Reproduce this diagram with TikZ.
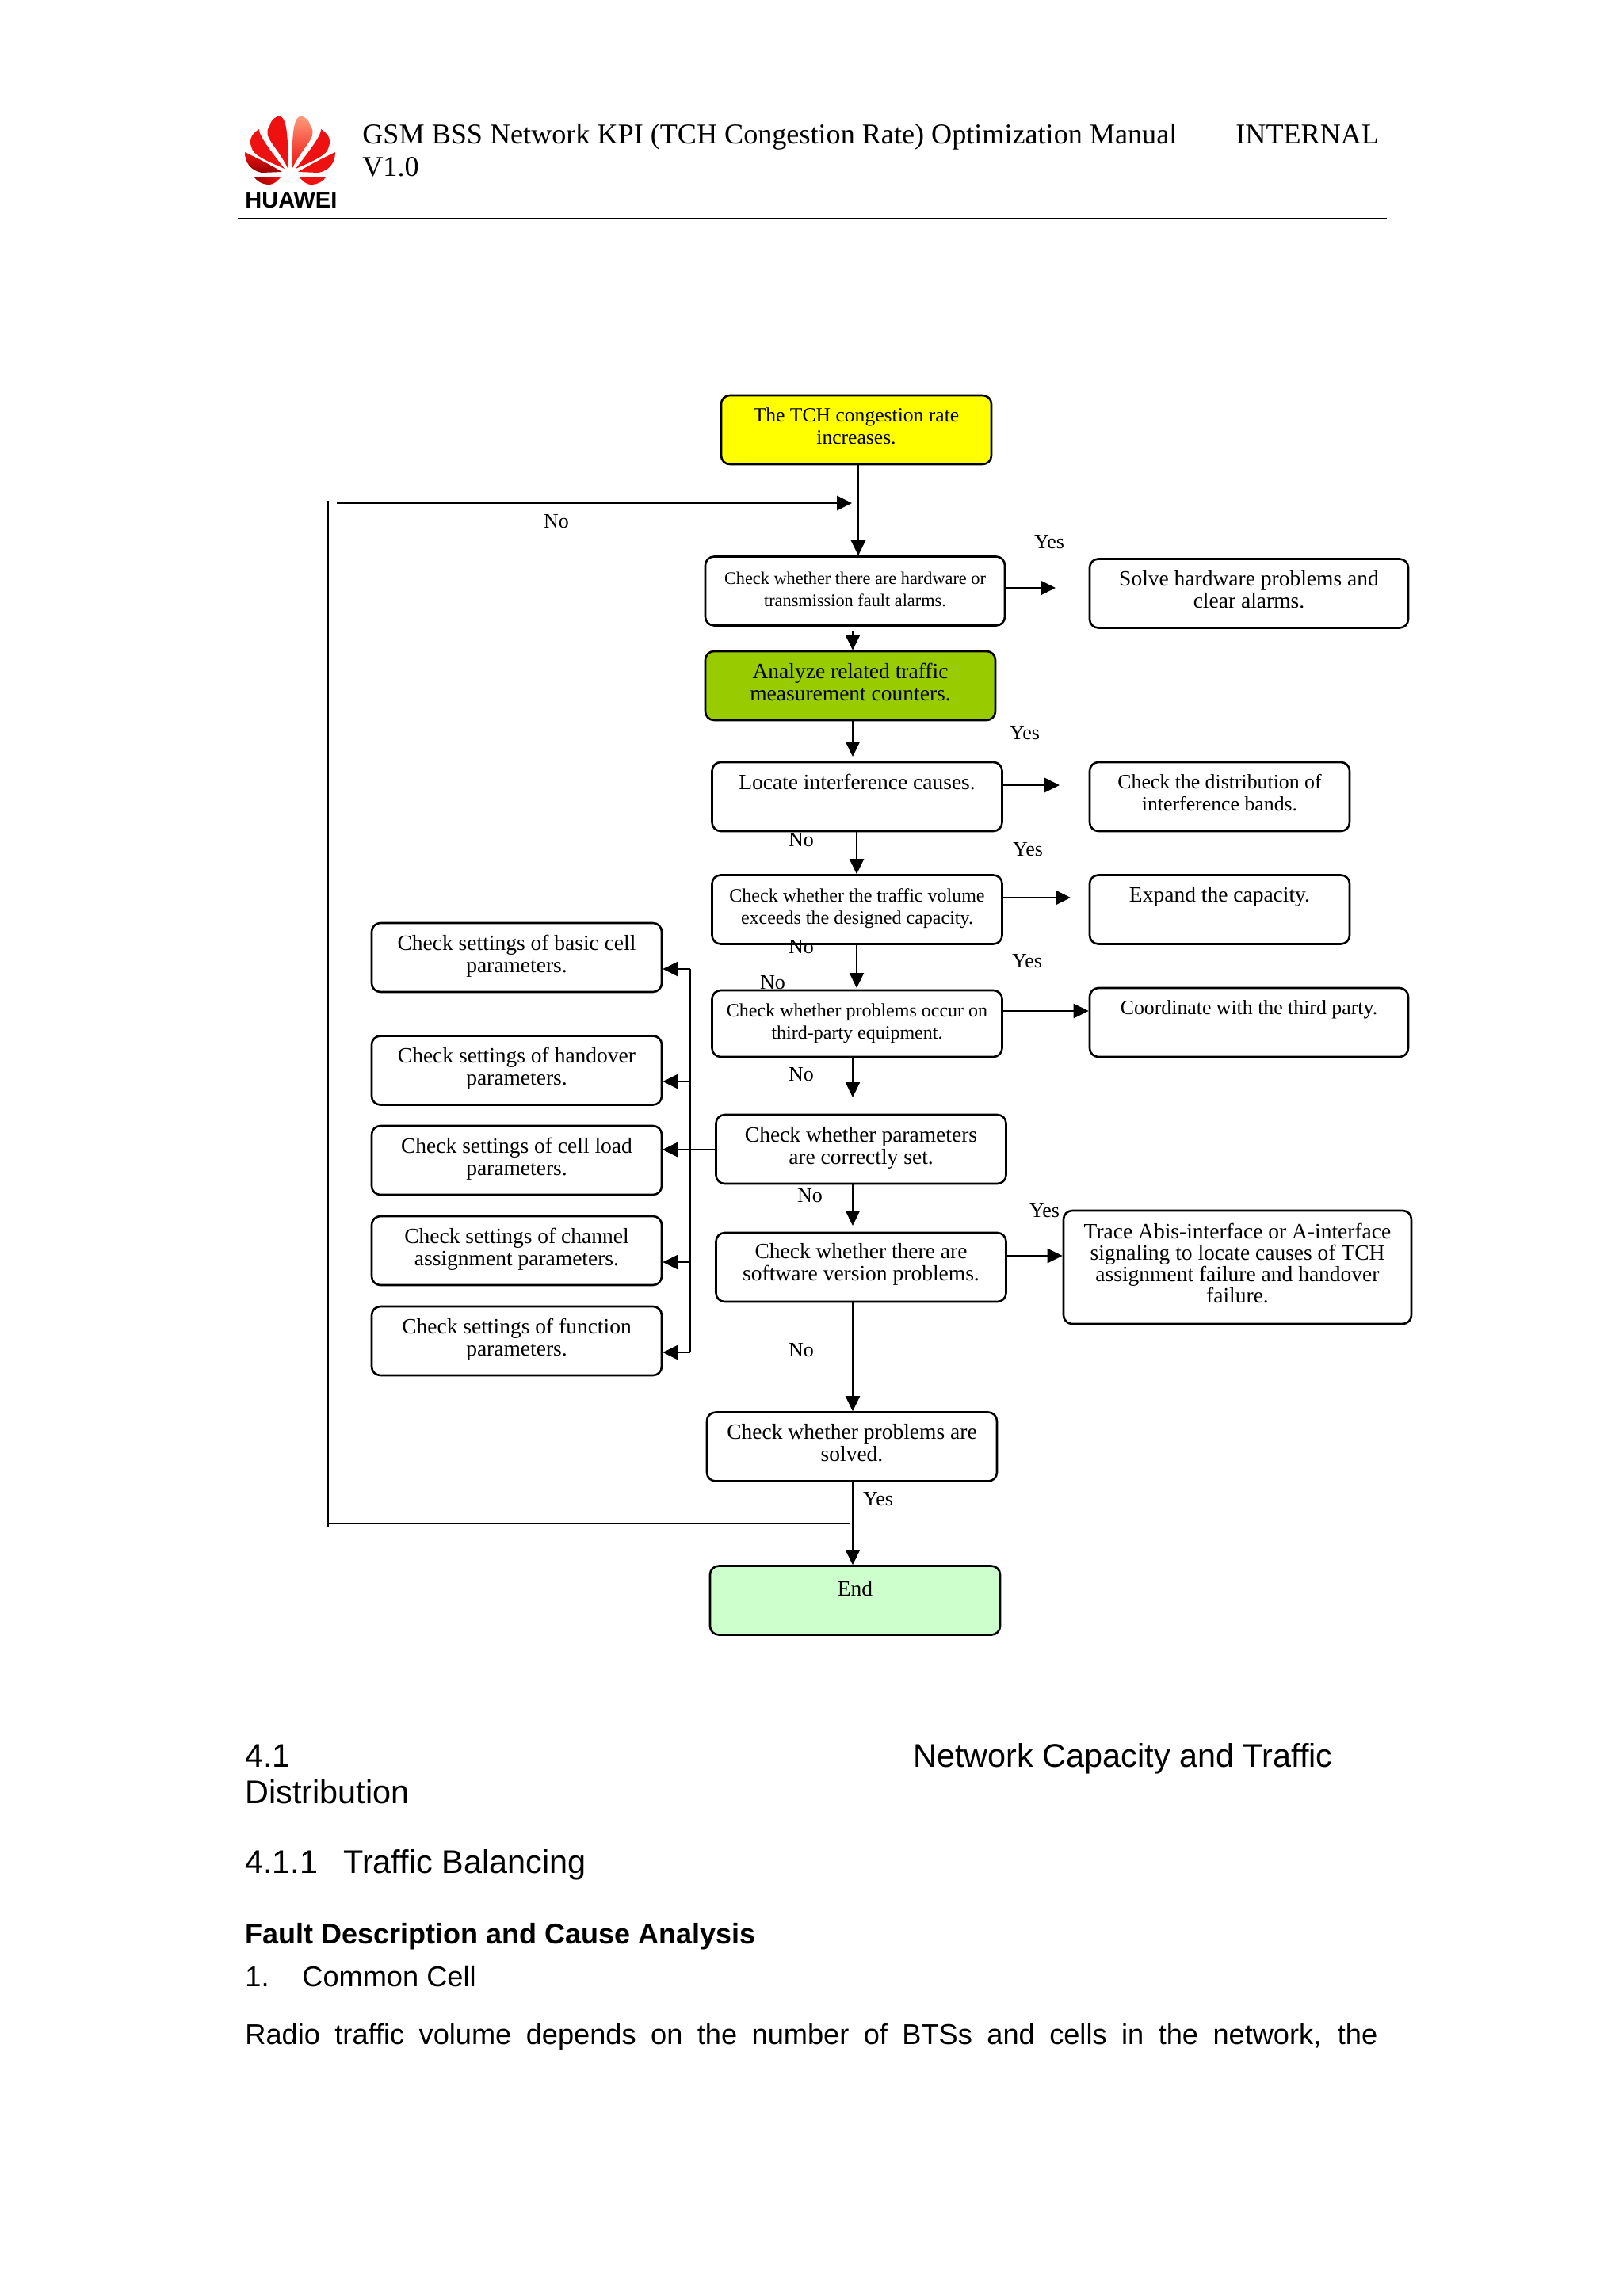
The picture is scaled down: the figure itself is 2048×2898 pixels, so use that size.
\documentclass[tikz,border=0pt]{standalone}
\usepackage{fontspec}
\setmainfont{Liberation Serif}
\newfontfamily\arialfont{Liberation Sans}
\usetikzlibrary{arrows.meta}
\definecolor{startyellow}{HTML}{FFFF00}
\definecolor{analyzegreen}{HTML}{99CC00}
\definecolor{endgreen}{HTML}{CCFFCC}
\definecolor{logored}{HTML}{EE1111}
\definecolor{logodark}{HTML}{9A0000}
\definecolor{logolight}{HTML}{FF9C7A}
\def\boxdepth{5pt}
\tikzset{
	box/.style={draw,rounded corners=5.5pt,line width=1.3pt,align=center,inner sep=0pt,
		minimum width=183pt,minimum height=43.5pt,font=\fontsize{13.75}{14}\selectfont,
		execute at begin node={\rule{0pt}{10pt}},execute at end node={\rule[-\boxdepth]{0pt}{0pt}}},
	low/.style={execute at begin node={\def\boxdepth{#1}}},
	smallbox/.style={box,font=\fontsize{12}{14}\selectfont},
	lab/.style={inner sep=0pt,font=\fontsize{13}{14}\selectfont},
	pagetext/.style={anchor=base west,inner sep=0pt,font=\arialfont\fontsize{18.1}{22}\selectfont},
	headtext/.style={anchor=base west,inner sep=0pt,font=\arialfont\fontsize{20.7}{24}\selectfont},
	toptext/.style={anchor=base west,inner sep=0pt,font=\fontsize{18.07}{21}\selectfont},
	arw/.style={->,line width=1.1pt},
	harw/.style={->,line width=1.4pt},
	petal/.style={draw=none}
}
\begin{document}
\begin{tikzpicture}[x=.5pt,y=-.5pt,>={Triangle[length=9.5pt,width=9pt]},line join=round]
	\useasboundingbox (0,0) rectangle (2048,2898);
	% logo
	\foreach \s/\colA/\colB in {1/logored/logodark,-1/logolight/logored}{
		\begin{scope}[shift={(366,0)},xscale=\s]
			\shade[petal,top color=\colA,bottom color=logored] (-3,212) .. controls (-16,185) and (-36,172) .. (-26,160) .. controls (-24,150) and (-17,146) .. (-12,147) .. controls (-4,150) and (-2,175) .. (-3,212) -- cycle;
			\fill[logored] (-7,213) .. controls (-25,190) and (-40,170) .. (-39,163) .. controls (-50,170) and (-53,178) .. (-47,190) .. controls (-42,198) and (-25,205) .. (-7,213) -- cycle;
			\shade[petal,top color=logored,bottom color=\colB] (-10,217) .. controls (-30,205) and (-45,198) .. (-57,192) .. controls (-57,205) and (-50,215) .. (-36,218) -- cycle;
			\shade[petal,left color=\colB,right color=logored] (-46,223) -- (-11,223) .. controls (-16,228) and (-20,233) .. (-26,233) .. controls (-36,233) and (-42,228) .. (-46,223) -- cycle;
		\end{scope}
	}
	\node (logotext) at (309,262) [anchor=base west,inner sep=0pt,font=\arialfont\bfseries\fontsize{14.5}{16}\selectfont]{HUAWEI};
	% header
	\node (title) at (457,181) [toptext]{GSM BSS Network KPI (TCH Congestion Rate) Optimization Manual};
	\node (internal) at (1559,181) [toptext]{INTERNAL};
	\node (version) at (457,222) [toptext]{V1.0};
	\coordinate (ruleL) at (300,276);
	\coordinate (ruleR) at (1750,276);
	\draw[line width=1pt] (ruleL) -- (ruleR);
	% main column
	\node (start) at (1080.5,542.5) [box,fill=startyellow,minimum width=170.5pt,font=\fontsize{12.8}{14}\selectfont]{The TCH congestion rate\\increases.};
	\node (hwcheck) at (1079,746) [box,low=2pt,minimum width=189pt,font=\fontsize{11.15}{14}\selectfont]{Check whether there are hardware or\\transmission fault alarms.};
	\node (analyze) at (1073,865.5) [box,fill=analyzegreen]{Analyze related traffic\\measurement counters.};
	\node (locate) at (1081.5,1005.5) [box]{Locate interference causes.\\~};
	\node (traffic) at (1081.5,1148) [smallbox,low=4pt]{Check whether the traffic volume\\exceeds the designed capacity.};
	\node (third) at (1081.5,1292) [smallbox,low=3pt,minimum height=42pt]{Check whether problems occur on\\third-party equipment.};
	\node (params) at (1086.5,1450.5) [box]{Check whether parameters\\are correctly set.};
	\node (software) at (1086.5,1599.5) [box,low=7pt]{Check whether there are\\software version problems.};
	\node (solved) at (1075,1826) [box]{Check whether problems are\\solved.};
	\node (end) at (1079,2020) [box,low=1pt,fill=endgreen]{End\\~};
	% right column
	\node (solve) at (1576,749) [box,minimum width=201pt]{Solve hardware problems and\\clear alarms.};
	\node (distrib) at (1539,1005.5) [box,minimum width=164pt,font=\fontsize{12.9}{14}\selectfont]{Check the distribution of\\interference bands.};
	\node (expand) at (1539,1148) [box,minimum width=164pt]{Expand the capacity.\\~};
	\node (coord) at (1576,1290.5) [box,minimum width=201pt,font=\fontsize{12.9}{14}\selectfont]{Coordinate with the third party.\\~};
	\node (trace) at (1561.5,1599.5) [box,minimum width=219.5pt,minimum height=71.5pt,font=\fontsize{13.75}{13.5}\selectfont]{Trace Abis-interface or A-interface\\signaling to locate causes of TCH\\assignment failure and handover\\failure.};
	% left column
	\node (basic) at (652,1208.5) [box]{Check settings of basic cell\\parameters.};
	\node (handover) at (652,1351) [box]{Check settings of handover\\parameters.};
	\node (cellload) at (652,1464.5) [box]{Check settings of cell load\\parameters.};
	\node (channel) at (652,1578.5) [box]{Check settings of channel\\assignment parameters.};
	\node (function) at (652,1692.5) [box]{Check settings of function\\parameters.};
	% guides for the arrows
	\coordinate (colA) at (1083,0);
	\coordinate (colB) at (1076,0);
	\coordinate (colC) at (1081,0);
	\draw[arw] (start.south-|colA) -- (hwcheck.north-|colA);
	\coordinate (tipHw) at (1332,742);
	\draw[harw] (hwcheck.east|-tipHw) -- (tipHw);
	\coordinate (tailAn) at (1076,796);
	\draw[arw] (tailAn) -- (analyze.north-|tailAn);
	\coordinate (tipAn) at (1076,955);
	\draw[arw] (analyze.south-|tipAn) -- (tipAn);
	\coordinate (tipLoc) at (1337,991);
	\draw[harw] (locate.east|-tipLoc) -- (tipLoc);
	\draw[arw] (locate.south-|colC) -- (traffic.north-|colC);
	\coordinate (tipTr) at (1351,1133);
	\draw[harw] (traffic.east|-tipTr) -- (tipTr);
	\coordinate (tipTrd) at (1081,1247);
	\draw[arw] (traffic.south-|tipTrd) -- (tipTrd);
	\coordinate (tipCo) at (1375,1276);
	\draw[harw] (third.east|-tipCo) -- (coord.west|-tipCo);
	\coordinate (tipPa) at (1076,1385);
	\draw[arw] (third.south-|tipPa) -- (tipPa);
	\coordinate (tipSw) at (1076,1547);
	\draw[arw] (params.south-|tipSw) -- (tipSw);
	\coordinate (tipTc) at (1342,1585);
	\draw[harw] (software.east|-tipTc) -- (trace.west|-tipTc);
	\draw[arw] (software.south-|colB) -- (solved.north-|colB);
	\draw[arw] (solved.south-|colB) -- (end.north-|colB);
	% settings bus
	\foreach \n/\y in {basic/1223,handover/1365,cellload/1451,channel/1593,function/1707}{
		\coordinate (bus\n) at (871,\y);
		\draw[harw] (bus\n) -- (\n.east|-bus\n);
	}
	\draw[line width=1.1pt] (busbasic) -- (busfunction);
	\draw[harw] (params.west|-buscellload) -- (cellload.east|-buscellload);
	% loop back
	\coordinate (loopA) at (414,1923);
	\coordinate (loopB) at (414,632);
	\coordinate (loopC) at (425,635);
	\coordinate (loopD) at (1075,635);
	\coordinate (loopE) at (1073,1923);
	\coordinate (loopF) at (414,1928);
	\draw[line width=1.4pt] (loopE) -- (loopA);
	\draw[line width=1.1pt] (loopF) -- (loopB);
	\draw[harw] (loopC) -- (loopD);
	% labels
	\node (noLoop) at (702,658) [lab]{No};
	\node (yesHw) at (1324,684) [lab]{Yes};
	\node (yesLoc) at (1293,925) [lab]{Yes};
	\node (noLoc) at (1011,1060) [lab]{No};
	\node (yesTr) at (1297,1072) [lab]{Yes};
	\node (noTr) at (1011,1195) [lab]{No};
	\node (yesTrd) at (1296,1213) [lab]{Yes};
	\node (noExtra) at (975,1240) [lab]{No};
	\node (noTrd) at (1011,1356) [lab]{No};
	\node (noPa) at (1022,1509) [lab]{No};
	\node (yesSw) at (1318,1528) [lab]{Yes};
	\node (noSw) at (1011,1704) [lab]{No};
	\node (yesSo) at (1108,1892) [lab]{Yes};
	% page text
	\node (secnum) at (309,2230) [headtext]{4.1};
	\node (sectitle) at (1152,2230) [headtext]{Network Capacity and Traffic};
	\node (secrest) at (309,2276) [headtext]{Distribution};
	\node (subnum) at (309,2364) [headtext]{4.1.1};
	\node (subtitle) at (433,2364) [headtext]{Traffic Balancing};
	\node (fault) at (309,2453) [pagetext,font=\arialfont\bfseries\fontsize{18}{22}\selectfont]{Fault Description and Cause Analysis};
	\node (itemnum) at (309,2507) [pagetext]{1.};
	\node (itemtitle) at (381,2507) [pagetext]{Common Cell};
	\node (radio) at (309,2580) [pagetext]{\makebox[714.5pt][s]{Radio traffic volume depends on the number of BTSs and cells in the network, the}};
\end{tikzpicture}
\end{document}
